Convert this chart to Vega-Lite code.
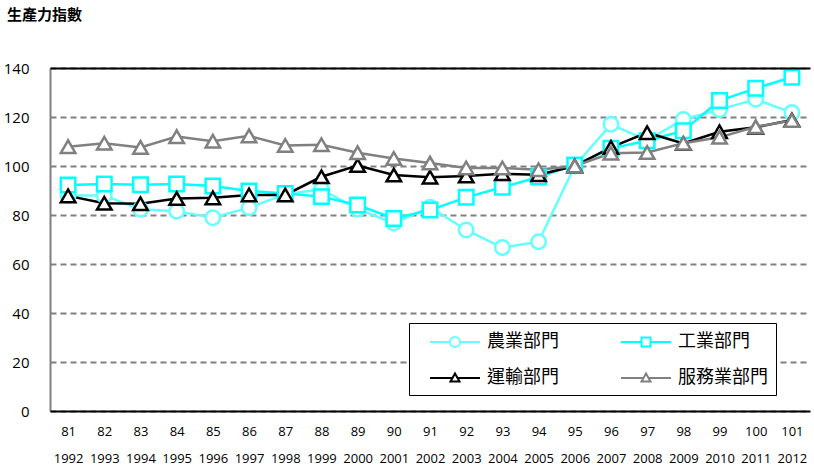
{
  "$schema": "https://vega.github.io/schema/vega-lite/v6.json",
  "width": 760,
  "height": 343,
  "autosize": {"type": "none"},
  "padding": {"left": 50, "top": 68, "right": 4, "bottom": 58},
  "background": "white",
  "config": {
    "view": {"stroke": null},
    "font": "Open Sans",
    "axis": {"labelFont": "Open Sans", "labelColor": "#000000"}
  },
  "title": {
    "text": "生產力指數",
    "anchor": "start",
    "frame": "group",
    "font": "Noto Sans CJK TC",
    "fontSize": 15,
    "fontWeight": "bold",
    "color": "#000000",
    "dx": -43,
    "offset": 38
  },
  "data": {
    "values": [
      {"t": "81", "s": "農業部門", "v": 88},
      {"t": "82", "s": "農業部門", "v": 88},
      {"t": "83", "s": "農業部門", "v": 82.3},
      {"t": "84", "s": "農業部門", "v": 81.5},
      {"t": "85", "s": "農業部門", "v": 78.9},
      {"t": "86", "s": "農業部門", "v": 83},
      {"t": "87", "s": "農業部門", "v": 88.5},
      {"t": "88", "s": "農業部門", "v": 90.5},
      {"t": "89", "s": "農業部門", "v": 82.4},
      {"t": "90", "s": "農業部門", "v": 76.7},
      {"t": "91", "s": "農業部門", "v": 83.2},
      {"t": "92", "s": "農業部門", "v": 73.9},
      {"t": "93", "s": "農業部門", "v": 66.7},
      {"t": "94", "s": "農業部門", "v": 69.1},
      {"t": "95", "s": "農業部門", "v": 100},
      {"t": "96", "s": "農業部門", "v": 117},
      {"t": "97", "s": "農業部門", "v": 110.5},
      {"t": "98", "s": "農業部門", "v": 119},
      {"t": "99", "s": "農業部門", "v": 123},
      {"t": "100", "s": "農業部門", "v": 127.2},
      {"t": "101", "s": "農業部門", "v": 121.8},
      {"t": "81", "s": "工業部門", "v": 92.2},
      {"t": "82", "s": "工業部門", "v": 92.7},
      {"t": "83", "s": "工業部門", "v": 92.3},
      {"t": "84", "s": "工業部門", "v": 92.7},
      {"t": "85", "s": "工業部門", "v": 91.8},
      {"t": "86", "s": "工業部門", "v": 89.8},
      {"t": "87", "s": "工業部門", "v": 88.8},
      {"t": "88", "s": "工業部門", "v": 87.5},
      {"t": "89", "s": "工業部門", "v": 84.1},
      {"t": "90", "s": "工業部門", "v": 78.6},
      {"t": "91", "s": "工業部門", "v": 82},
      {"t": "92", "s": "工業部門", "v": 87.2},
      {"t": "93", "s": "工業部門", "v": 91.3},
      {"t": "94", "s": "工業部門", "v": 95.5},
      {"t": "95", "s": "工業部門", "v": 100.4},
      {"t": "96", "s": "工業部門", "v": 107.2},
      {"t": "97", "s": "工業部門", "v": 110.3},
      {"t": "98", "s": "工業部門", "v": 114.4},
      {"t": "99", "s": "工業部門", "v": 126.7},
      {"t": "100", "s": "工業部門", "v": 131.7},
      {"t": "101", "s": "工業部門", "v": 136.2},
      {"t": "81", "s": "運輸部門", "v": 87.8},
      {"t": "82", "s": "運輸部門", "v": 84.8},
      {"t": "83", "s": "運輸部門", "v": 84.6},
      {"t": "84", "s": "運輸部門", "v": 86.7},
      {"t": "85", "s": "運輸部門", "v": 87},
      {"t": "86", "s": "運輸部門", "v": 88.2},
      {"t": "87", "s": "運輸部門", "v": 88.2},
      {"t": "88", "s": "運輸部門", "v": 95.6},
      {"t": "89", "s": "運輸部門", "v": 100.2},
      {"t": "90", "s": "運輸部門", "v": 96.3},
      {"t": "91", "s": "運輸部門", "v": 95.4},
      {"t": "92", "s": "運輸部門", "v": 95.9},
      {"t": "93", "s": "運輸部門", "v": 96.8},
      {"t": "94", "s": "運輸部門", "v": 96.4},
      {"t": "95", "s": "運輸部門", "v": 100},
      {"t": "96", "s": "運輸部門", "v": 107.6},
      {"t": "97", "s": "運輸部門", "v": 113.6},
      {"t": "98", "s": "運輸部門", "v": 109.2},
      {"t": "99", "s": "運輸部門", "v": 114},
      {"t": "100", "s": "運輸部門", "v": 115.8},
      {"t": "101", "s": "運輸部門", "v": 118.8},
      {"t": "81", "s": "服務業部門", "v": 107.9},
      {"t": "82", "s": "服務業部門", "v": 109.3},
      {"t": "83", "s": "服務業部門", "v": 107.6},
      {"t": "84", "s": "服務業部門", "v": 112},
      {"t": "85", "s": "服務業部門", "v": 110.1},
      {"t": "86", "s": "服務業部門", "v": 112.3},
      {"t": "87", "s": "服務業部門", "v": 108.4},
      {"t": "88", "s": "服務業部門", "v": 108.7},
      {"t": "89", "s": "服務業部門", "v": 105.4},
      {"t": "90", "s": "服務業部門", "v": 103.1},
      {"t": "91", "s": "服務業部門", "v": 101.2},
      {"t": "92", "s": "服務業部門", "v": 99.2},
      {"t": "93", "s": "服務業部門", "v": 99.2},
      {"t": "94", "s": "服務業部門", "v": 98.5},
      {"t": "95", "s": "服務業部門", "v": 100},
      {"t": "96", "s": "服務業部門", "v": 105.2},
      {"t": "97", "s": "服務業部門", "v": 105.5},
      {"t": "98", "s": "服務業部門", "v": 109.3},
      {"t": "99", "s": "服務業部門", "v": 111.7},
      {"t": "100", "s": "服務業部門", "v": 116},
      {"t": "101", "s": "服務業部門", "v": 118.6}
    ]
  },
  "layer": [
    {
      "mark": {"type": "line", "strokeWidth": 2.5},
      "encoding": {
        "x": {
          "field": "t",
          "type": "ordinal",
          "sort": null,
          "scale": {"type": "point", "padding": 0.5},
          "axis": {
            "title": null,
            "orient": "bottom",
            "labelAngle": 0,
            "ticks": false,
            "domain": true,
            "domainColor": "#000000",
            "domainWidth": 2,
            "zindex": 1,
            "grid": false,
            "labelFontSize": 13,
            "labelPadding": 14,
            "labelLineHeight": 27,
            "labelExpr": "[datum.label, '' + (toNumber(datum.label) + 1911)]"
          }
        },
        "y": {
          "field": "v",
          "type": "quantitative",
          "scale": {"domain": [0, 140], "nice": false, "zero": true},
          "axis": {
            "title": null,
            "values": [0, 20, 40, 60, 80, 100, 120, 140],
            "ticks": false,
            "domainColor": "#808080",
            "domainWidth": 2,
            "labelFontSize": 15,
            "labelPadding": 21,
            "grid": true,
            "gridColor": "#808080",
            "gridDash": [6, 4],
            "gridWidth": 2
          }
        },
        "stroke": {
          "field": "s",
          "type": "nominal",
          "sort": ["農業部門", "工業部門", "運輸部門", "服務業部門"],
          "scale": {"domain": ["農業部門", "工業部門", "運輸部門", "服務業部門"], "range": ["#66FFFF", "#00FFFF", "#000000", "#808080"]},
          "legend": {
            "title": null,
            "orient": "none",
            "legendX": 359,
            "legendY": 255,
            "direction": "horizontal",
            "columns": 2,
            "columnPadding": 49,
            "rowPadding": 16,
            "padding": 8,
            "strokeColor": "#000000",
            "fillColor": "white",
            "symbolSize": 400,
            "symbolStrokeWidth": 2,
            "symbolOffset": 12,
            "labelFont": "Noto Sans CJK TC",
            "labelFontSize": 18,
            "labelColor": "#000000",
            "labelOffset": 36,
            "encode": {
              "symbols": {
                "update": {
                  "fill": {"value": "white"},
                  "fillOpacity": {"value": 1},
                  "shape": {"signal": "datum.value == '農業部門' ? 'M10.9,0M-1,0H1M2,0H4M2,0A0.5,0.5 0 1,1 1,0A0.5,0.5 0 1,1 2,0Z' : datum.value == '工業部門' ? 'M10.9,0M-1,0H1.05M1.95,0H4M1.05,-0.45H1.95V0.45H1.05Z' : 'M10.9,0M-1,0H1.25M1.75,0H4M1.5,-0.45L1.95,0.35H1.05Z'"}
                }
              }
            }
          }
        }
      }
    },
    {
      "transform": [{"filter": "datum.s == '農業部門'"}],
      "mark": {"type": "point", "shape": "circle", "filled": false, "fill": "white", "fillOpacity": 1, "strokeWidth": 2.5, "size": 210, "opacity": 1},
      "encoding": {
        "x": {
          "field": "t",
          "type": "ordinal",
          "sort": null,
          "axis": {
            "title": null,
            "orient": "top",
            "labels": false,
            "ticks": false,
            "domain": true,
            "domainColor": "#000000",
            "domainWidth": 2,
            "zindex": 1,
            "grid": false
          }
        },
        "y": {"field": "v", "type": "quantitative"},
        "stroke": {"field": "s", "type": "nominal"}
      }
    },
    {
      "transform": [{"filter": "datum.s == '工業部門'"}],
      "mark": {"type": "point", "shape": "square", "filled": false, "fill": "white", "fillOpacity": 1, "strokeWidth": 2.5, "size": 210, "opacity": 1},
      "encoding": {
        "x": {"field": "t", "type": "ordinal", "sort": null, "axis": null},
        "y": {"field": "v", "type": "quantitative"},
        "stroke": {"field": "s", "type": "nominal"}
      }
    },
    {
      "transform": [{"filter": "datum.s == '運輸部門' || datum.s == '服務業部門'"}],
      "mark": {"type": "point", "shape": "triangle-up", "filled": false, "fill": "white", "fillOpacity": 1, "strokeWidth": 2.5, "size": 210, "opacity": 1},
      "encoding": {
        "x": {"field": "t", "type": "ordinal", "sort": null, "axis": null},
        "y": {"field": "v", "type": "quantitative"},
        "stroke": {"field": "s", "type": "nominal"}
      }
    }
  ],
  "resolve": {"axis": {"x": "independent"}}
}
